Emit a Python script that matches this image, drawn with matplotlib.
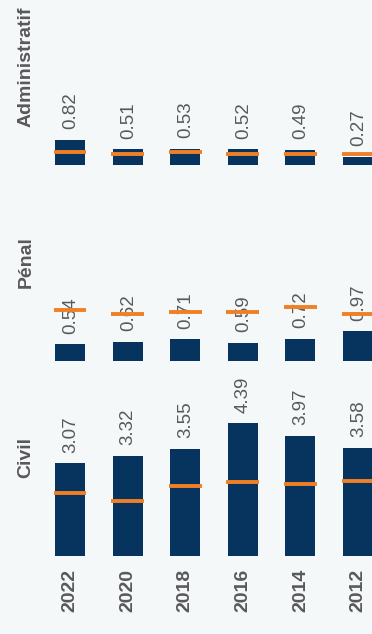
import numpy as np
import matplotlib
matplotlib.use("Agg")
from matplotlib import pyplot as plt
import matplotlib.transforms as mtransforms

# donnees
annees = ["2022", "2020", "2018", "2016", "2014", "2012"]
civil = [3.07, 3.32, 3.55, 4.39, 3.97, 3.58]
civil_ref = [2.08, 1.82, 2.31, 2.45, 2.38, 2.48]
penal = [0.54, 0.62, 0.71, 0.59, 0.72, 0.97]
penal_ref = [1.68, 1.55, 1.62, 1.62, 1.78, 1.55]
admin = [0.82, 0.51, 0.53, 0.52, 0.49, 0.27]
admin_ref = [0.43, 0.36, 0.43, 0.36, 0.36, 0.36]

BLEU = "#06345f"
ORANGE = "#f08026"
GRIS = "#595959"
FOND = "#f5f8f9"

fig = plt.figure(figsize=(3.72, 6.34), dpi=100, facecolor=FOND)

x = np.arange(len(annees))
h = 0.308
panneaux = [
    ("Administratif", admin, admin_ref, 0.7402),
    ("Pénal", penal, penal_ref, 0.4311),
    ("Civil", civil, civil_ref, 0.1230),
]

for titre, vals, refs, bas in panneaux:
    ax = fig.add_axes([0, bas, 1, h])
    ax.set_facecolor("none")
    ax.bar(x, vals, width=0.52, color=BLEU, zorder=2)
    ax.hlines(refs, x - 0.285, x + 0.285, color=ORANGE, lw=2.8, zorder=5)
    for xi, v in zip(x, vals):
        ax.annotate(f"{v:.2f}", (xi, v), xytext=(0.5, 7.5), textcoords="offset points",
                    rotation=90, ha="center", va="bottom", fontsize=13.5,
                    color=GRIS, family="Liberation Sans", zorder=3,
                    annotation_clip=False)
    ax.set_xlim(-1.215, 5.243)
    ax.set_ylim(0, 6.45)
    for s in ax.spines.values():
        s.set_visible(False)
    ax.set_yticks([])
    trans = mtransforms.blended_transform_factory(ax.transAxes, ax.transData)
    ax.text(0.07, 3.25, titre, transform=trans, rotation=90, ha="center",
            va="center", fontsize=14, fontweight="bold", color=GRIS,
            family="Liberation Sans")
    if titre == "Civil":
        ax.set_xticks(x)
        ax.set_xticklabels(annees, rotation=90, fontsize=14, fontweight="bold",
                           color=GRIS, family="Liberation Sans")
        ax.tick_params(axis="x", length=0, pad=9.5)
    else:
        ax.set_xticks([])

fig.savefig("out.png", dpi=100, facecolor=FOND)
